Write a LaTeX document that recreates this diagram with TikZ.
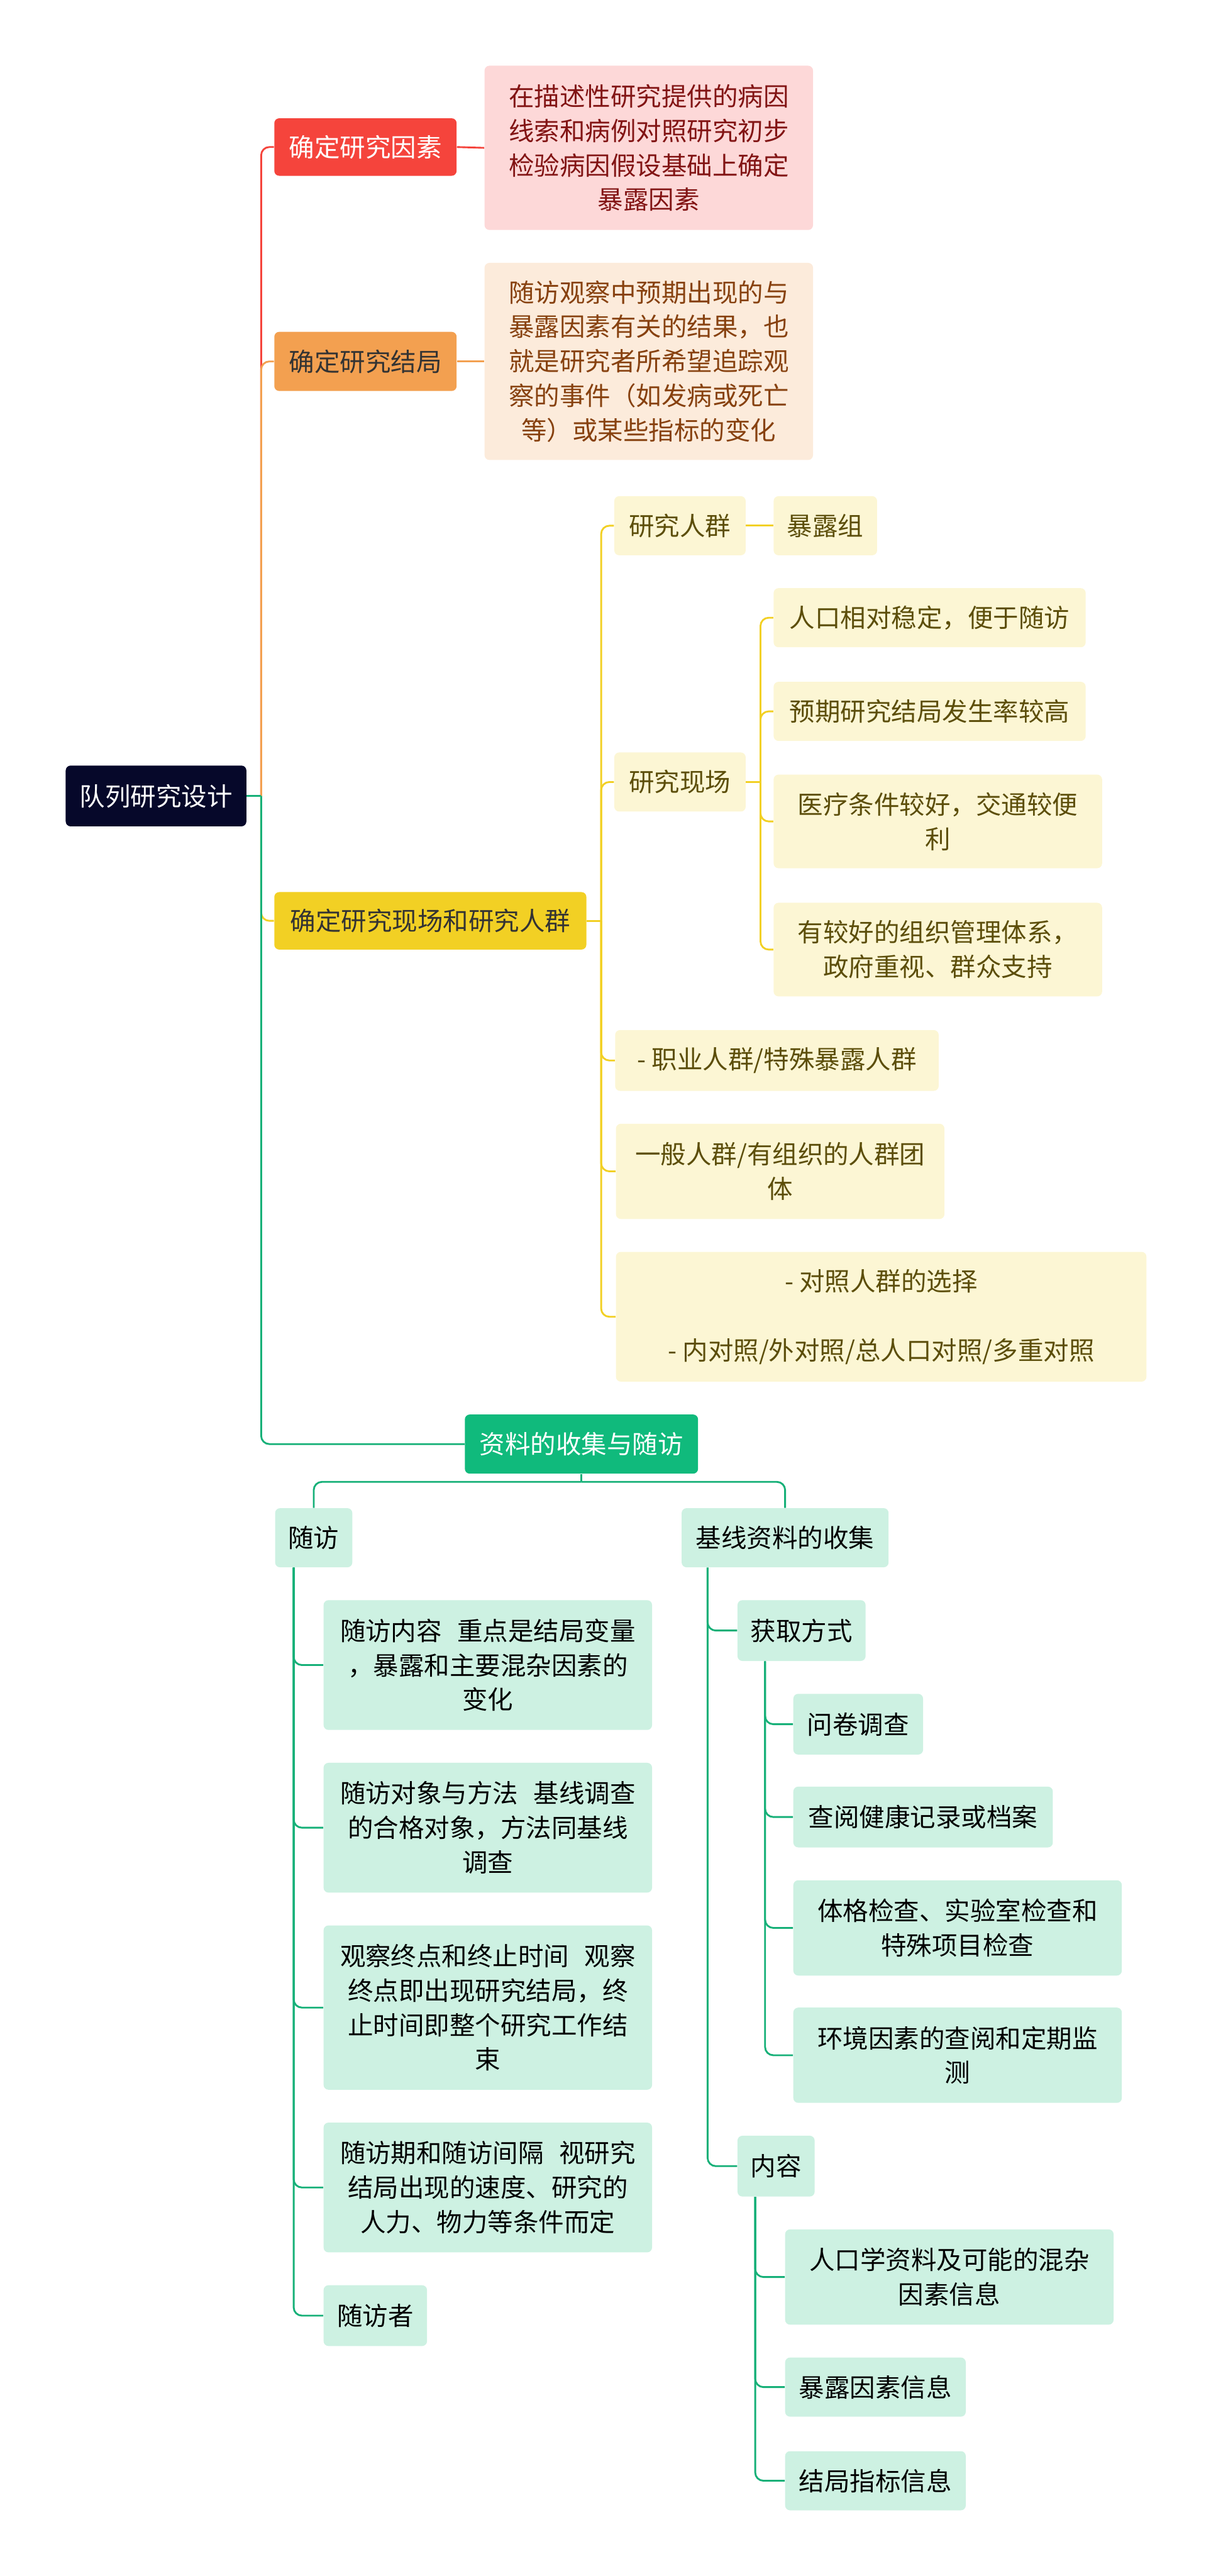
\documentclass[tikz,border=0pt]{standalone}
\usepackage{fontspec}
\setmainfont{Noto Sans CJK SC}
\usetikzlibrary{calc}
\definecolor{rootc}{RGB}{6,8,42}
\definecolor{redc}{RGB}{245,68,60}
\definecolor{redlt}{RGB}{253,216,216}
\definecolor{redtx}{RGB}{130,20,20}
\definecolor{orangec}{RGB}{243,160,80}
\definecolor{orangelt}{RGB}{252,235,219}
\definecolor{orangetx}{RGB}{135,65,15}
\definecolor{yellowc}{RGB}{242,208,36}
\definecolor{yellowlt}{RGB}{252,246,212}
\definecolor{yellowtx}{RGB}{92,78,10}
\definecolor{greenc}{RGB}{16,186,124}
\definecolor{greenlt}{RGB}{205,241,226}
\definecolor{greenln}{RGB}{22,176,120}

\begin{document}
\begin{tikzpicture}[x=1pt, y=-1pt,
  box/.style={rounded corners=3pt, align=center, inner sep=0pt, font=\fontsize{15.5}{21}\selectfont},
  wh/.style 2 args={minimum width=#1pt, minimum height=#2pt},
  rootbox/.style={box, fill=rootc, text=white},
  redbox/.style={box, fill=redc, text=white},
  redleaf/.style={box, fill=redlt, text=redtx},
  orangebox/.style={box, fill=orangec, text=black!80},
  orangeleaf/.style={box, fill=orangelt, text=orangetx},
  yellowbox/.style={box, fill=yellowc, text=black!80},
  yellowleaf/.style={box, fill=yellowlt, text=yellowtx},
  greenbox/.style={box, fill=greenc, text=white},
  greenleaf/.style={box, fill=greenlt, text=black},
  conn/.style={line width=1.1pt, rounded corners=5pt},
  rline/.style={conn, redc}, oline/.style={conn, orangec},
  yline/.style={conn, yellowc}, gline/.style={conn, greenln}]
  \useasboundingbox (0,0) rectangle (737,1568);
  %% Root
  \node[rootbox, wh={110}{37}] (root) at (95,484.5) {队列研究设计};
  \coordinate (rootspine) at (159,484.5);
  %% Research factor
  \node[redbox, wh={111}{35}] (factor) at (222.5,89.5) {确定研究因素};
  \node[redleaf, wh={200}{100}] (factornote) at (395,90)
    {在描述性研究提供的病因\\线索和病例对照研究初步\\检验病因假设基础上确定\\暴露因素};
  %% Research outcome
  \node[orangebox, wh={111}{36}] (outcome) at (222.5,220) {确定研究结局};
  \node[orangeleaf, wh={200}{120}] (outcomenote) at (395,220)
    {随访观察中预期出现的与\\暴露因素有关的结果，也\\就是研究者所希望追踪观\\察的事件（如发病或死亡\\等）或某些指标的变化};
  %% Site and population
  \node[yellowbox, wh={190}{35}] (site) at (262,560.5) {确定研究现场和研究人群};
  \node[yellowleaf, wh={80}{36}] (pop) at (414,320) {研究人群};
  \node[yellowleaf, wh={63}{36}] (expo) at (502.5,320) {暴露组};
  \node[yellowleaf, wh={80}{36}] (field) at (414,476) {研究现场};
  \node[yellowleaf, wh={190}{36}] (field1) at (566,376) {人口相对稳定，便于随访};
  \node[yellowleaf, wh={190}{36}] (field2) at (566,433) {预期研究结局发生率较高};
  \node[yellowleaf, wh={200}{57}] (field3) at (571,500) {医疗条件较好，交通较便\\利};
  \node[yellowleaf, wh={200}{57}] (field4) at (571,578) {有较好的组织管理体系，\\政府重视、群众支持};
  \node[yellowleaf, wh={197}{37}] (occup) at (473,645.5) {- 职业人群/特殊暴露人群};
  \node[yellowleaf, wh={200}{58}] (general) at (475,713) {一般人群/有组织的人群团\\体};
  \node[yellowleaf, wh={323}{79}] (control) at (536.5,801.5)
    {- 对照人群的选择\\[21pt]- 内对照/外对照/总人口对照/多重对照};
  %% Data collection and follow-up
  \node[greenbox, wh={142}{36}] (collect) at (354,879) {资料的收集与随访};
  \node[greenleaf, wh={47}{36}] (follow) at (191,936) {随访};
  \node[greenleaf, wh={200}{79}] (f1) at (297,1013.5)
    {随访内容\hspace{0.6em}重点是结局变量\\，暴露和主要混杂因素的\\变化};
  \node[greenleaf, wh={200}{79}] (f2) at (297,1112.5)
    {随访对象与方法\hspace{0.6em}基线调查\\的合格对象，方法同基线\\调查};
  \node[greenleaf, wh={200}{100}] (f3) at (297,1222)
    {观察终点和终止时间\hspace{0.6em}观察\\终点即出现研究结局，终\\止时间即整个研究工作结\\束};
  \node[greenleaf, wh={200}{79}] (f4) at (297,1331.5)
    {随访期和随访间隔\hspace{0.6em}视研究\\结局出现的速度、研究的\\人力、物力等条件而定};
  \node[greenleaf, wh={63}{37}] (f5) at (228.5,1409.5) {随访者};
  \node[greenleaf, wh={126}{36}] (baseline) at (478,936) {基线资料的收集};
  \node[greenleaf, wh={78}{37}] (method) at (488,992.5) {获取方式};
  \node[greenleaf, wh={79}{37}] (q1) at (522.5,1049.5) {问卷调查};
  \node[greenleaf, wh={158}{37}] (q2) at (562,1106) {查阅健康记录或档案};
  \node[greenleaf, wh={200}{58}] (q3) at (583,1173.5) {体格检查、实验室检查和\\特殊项目检查};
  \node[greenleaf, wh={200}{58}] (q4) at (583,1251) {环境因素的查阅和定期监\\测};
  \node[greenleaf, wh={47}{37}] (content) at (472.5,1318.5) {内容};
  \node[greenleaf, wh={200}{58}] (c1) at (578,1386) {人口学资料及可能的混杂\\因素信息};
  \node[greenleaf, wh={110}{36}] (c2) at (533,1453) {暴露因素信息};
  \node[greenleaf, wh={110}{36}] (c3) at (533,1510) {结局指标信息};
  %% Connectors from the root
  \draw[rline] (rootspine) |- (factor.west);
  \draw[rline] (factor.east) -- (factornote.west);
  \draw[oline] (rootspine) |- (outcome.west);
  \draw[oline] (outcome.east) -- (outcomenote.west);
  \draw[yline] (rootspine) |- (site.west);
  \draw[gline] (root.east) -- (rootspine);
  \draw[gline] (rootspine) |- (collect.west);
  %% Yellow subtree
  \coordinate (sitespine) at (366,560.5);
  \draw[yline] (site.east) -- (sitespine);
  \foreach \n in {pop,field,occup,general,control}
    \draw[yline] (sitespine) |- (\n.west);
  \draw[yline] (pop.east) -- (expo.west);
  \coordinate (fieldspine) at (463,476);
  \draw[yline] (field.east) -- (fieldspine);
  \foreach \n in {field1,field2,field3,field4}
    \draw[yline] (fieldspine) |- (\n.west);
  %% Green subtree
  \coordinate (collectsplit) at (354,902);
  \draw[gline] (collect.south) -- (collectsplit);
  \foreach \n in {follow,baseline}
    \draw[gline] (collectsplit) -| (\n.north);
  \foreach \n in {f1,f2,f3,f4,f5}
    \draw[gline] ($(follow.south west)+(11.5,0)$) |- (\n.west);
  \foreach \n in {method,content}
    \draw[gline] ($(baseline.south west)+(16,0)$) |- (\n.west);
  \foreach \n in {q1,q2,q3,q4}
    \draw[gline] ($(method.south west)+(17,0)$) |- (\n.west);
  \foreach \n in {c1,c2,c3}
    \draw[gline] ($(content.south west)+(11,0)$) |- (\n.west);
\end{tikzpicture}
\end{document}
